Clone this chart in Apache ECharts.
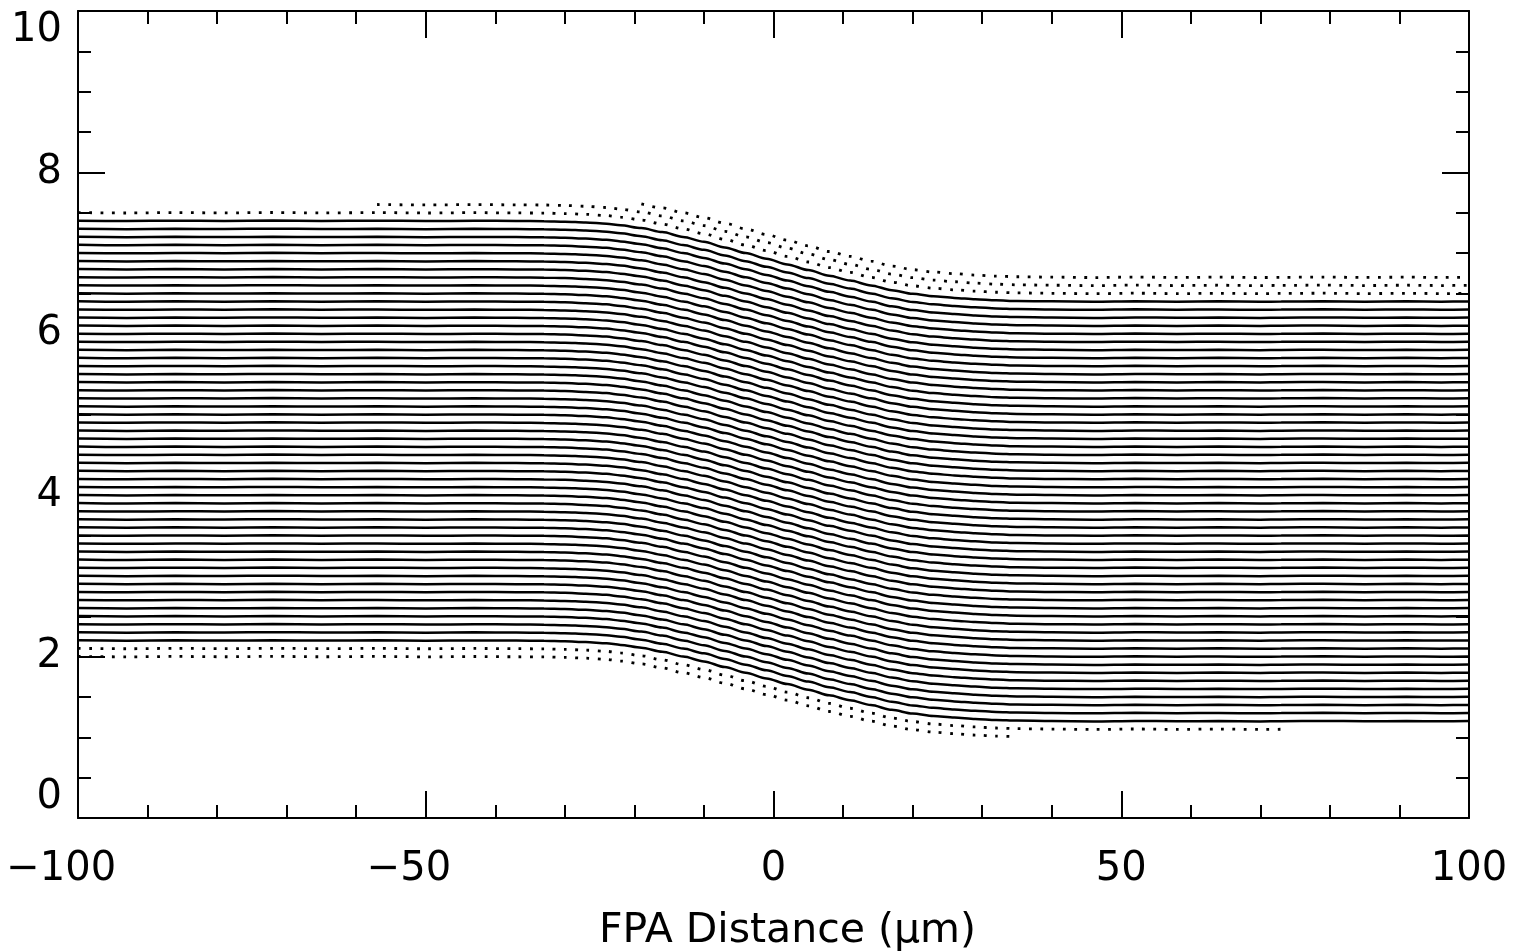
<!DOCTYPE html>
<html>
<head>
<meta charset="utf-8">
<script src="https://cdn.jsdelivr.net/npm/echarts@6/dist/echarts.min.js"></script>
<style>
html,body{margin:0;padding:0;background:#fff;}
#chart{width:1524px;height:951px;}
</style>
</head>
<body>
<div id="chart"></div>
<script>
// ---- data ----
// x sample positions (µm) and the common step profile (drop from the left plateau, incl. slight waviness)
const profileX    = [-100, -93, -86, -79, -72, -65, -57, -50, -43, -37, -33, -30, -27, -24, -22, -19, -16, -13, -10, -7, -4, -1, 2, 5, 8, 11, 14, 17, 20, 23, 26, 29, 32, 35, 40, 46, 52, 58, 64, 70, 73, 79, 85, 91, 96, 100];
const profileDrop = [0.002, -0.003, 0.002, -0.002, 0.003, -0.002, 0.002, -0.003, 0.001, -0.002, -0.004, -0.01, -0.02, -0.035, -0.055, -0.09, -0.14, -0.20, -0.26, -0.33, -0.40, -0.47, -0.54, -0.61, -0.68, -0.74, -0.80, -0.86, -0.905, -0.935, -0.955, -0.972, -0.985, -0.993, -0.998, -1.003, -0.997, -1.002, -0.998, -1.003, -1.0, -0.997, -1.002, -0.998, -1.002, -0.999];

// left-plateau levels of the solid traces
const solidLevels = [7.4, 7.3, 7.2, 7.1, 7.0, 6.9, 6.8, 6.7, 6.6, 6.5, 6.4, 6.3, 6.2, 6.1, 6.0, 5.9, 5.8, 5.7, 5.6, 5.5, 5.4, 5.3, 5.2, 5.1, 5.0, 4.9, 4.8, 4.7, 4.6, 4.5, 4.4, 4.3, 4.2, 4.1, 4.0, 3.9, 3.8, 3.7, 3.6, 3.5, 3.4, 3.3, 3.2, 3.1, 3.0, 2.9, 2.8, 2.7, 2.6, 2.5, 2.4, 2.3, 2.2];

// dotted (partial) traces: left-plateau level, x start, x end
const dottedLevels = [7.7, 7.6, 7.5, 2.1, 2.0];
const dottedStart  = [-19, -57, -100, -100, -100];
const dottedEnd    = [100, 100, 100, 73, 35];

// axis ticks
const xTicks = [-100, -50, 0, 50, 100];
const yTicks = [0, 2, 4, 6, 8, 10];
const xTitle = 'FPA Distance (\u03bcm)';

// ---- build chart ----
const FONT = 'DejaVu Sans';
function trace(level, x0, x1) {
  const d = [];
  for (let i = 0; i < profileX.length; i++) {
    const x = profileX[i];
    if (x >= x0 && x <= x1) d.push([x, +(level + profileDrop[i]).toFixed(4)]);
  }
  return d;
}
const series = [];
solidLevels.forEach(function (lv) {
  series.push({
    type: 'line', data: trace(lv, -100, 100), showSymbol: false, symbol: 'none',
    smooth: 0.3, smoothMonotone: 'x', silent: true, animation: false,
    lineStyle: { color: '#000', width: 2.5 }
  });
});
dottedLevels.forEach(function (lv, i) {
  series.push({
    type: 'line', data: trace(lv, dottedStart[i], dottedEnd[i]), showSymbol: false, symbol: 'none',
    smooth: 0.3, smoothMonotone: 'x', silent: true, animation: false,
    lineStyle: { color: '#000', width: 2.8, type: [2.8, 8.5], cap: 'butt' }
  });
});

const axisLineStyle = { show: true, onZero: false, lineStyle: { color: '#000', width: 2 } };
function fmtX(v) {
  return v < 0 ? '\u2212' + Math.abs(v) + '{h|\u2212}' : String(v);
}
const LS = 40;
const labelStyle = { fontSize: LS, color: '#000', fontFamily: FONT };

const chart = echarts.init(document.getElementById('chart'));
chart.setOption({
  backgroundColor: '#fff',
  animation: false,
  grid: { left: 78, right: 55, top: 11, bottom: 133, containLabel: false, outerBoundsMode: 'none' },
  xAxis: [
    {
      type: 'value', position: 'bottom', min: xTicks[0], max: xTicks[xTicks.length - 1], interval: 50,
      axisLine: axisLineStyle,
      axisTick: { show: true, inside: true, length: 27, lineStyle: { color: '#000', width: 2 } },
      minorTick: { show: true, splitNumber: 5, length: 13, lineStyle: { color: '#000', width: 2 } },
      splitLine: { show: false }, minorSplitLine: { show: false },
      axisLabel: Object.assign({ margin: 32, formatter: fmtX,
        rich: { h: { fontSize: LS, fontFamily: FONT, color: 'rgba(0,0,0,0)' } } }, labelStyle),
      name: xTitle, nameLocation: 'middle', nameGap: 93,
      nameTextStyle: { fontSize: 41, color: '#000', fontFamily: FONT, padding: [0, 0, 0, 28] }
    },
    {
      type: 'value', position: 'top', min: xTicks[0], max: xTicks[xTicks.length - 1], interval: 50,
      axisLine: axisLineStyle,
      axisTick: { show: true, inside: true, length: 27, lineStyle: { color: '#000', width: 2 } },
      minorTick: { show: true, splitNumber: 5, length: 13, lineStyle: { color: '#000', width: 2 } },
      splitLine: { show: false }, axisLabel: { show: false }
    }
  ],
  yAxis: [
    {
      type: 'value', position: 'left', min: yTicks[0], max: yTicks[yTicks.length - 1], interval: 2,
      axisLine: axisLineStyle,
      axisTick: { show: true, inside: true, length: 27, lineStyle: { color: '#000', width: 2 } },
      minorTick: { show: true, splitNumber: 4, length: 13, lineStyle: { color: '#000', width: 2 } },
      splitLine: { show: false }, minorSplitLine: { show: false },
      axisLabel: Object.assign({ margin: 16, verticalAlignMaxLabel: 'top', verticalAlignMinLabel: 'bottom' }, labelStyle)
    },
    {
      type: 'value', position: 'right', min: yTicks[0], max: yTicks[yTicks.length - 1], interval: 2,
      axisLine: axisLineStyle,
      axisTick: { show: true, inside: true, length: 27, lineStyle: { color: '#000', width: 2 } },
      minorTick: { show: true, splitNumber: 4, length: 13, lineStyle: { color: '#000', width: 2 } },
      splitLine: { show: false }, axisLabel: { show: false }
    }
  ],
  series: series
});
</script>
</body>
</html>
